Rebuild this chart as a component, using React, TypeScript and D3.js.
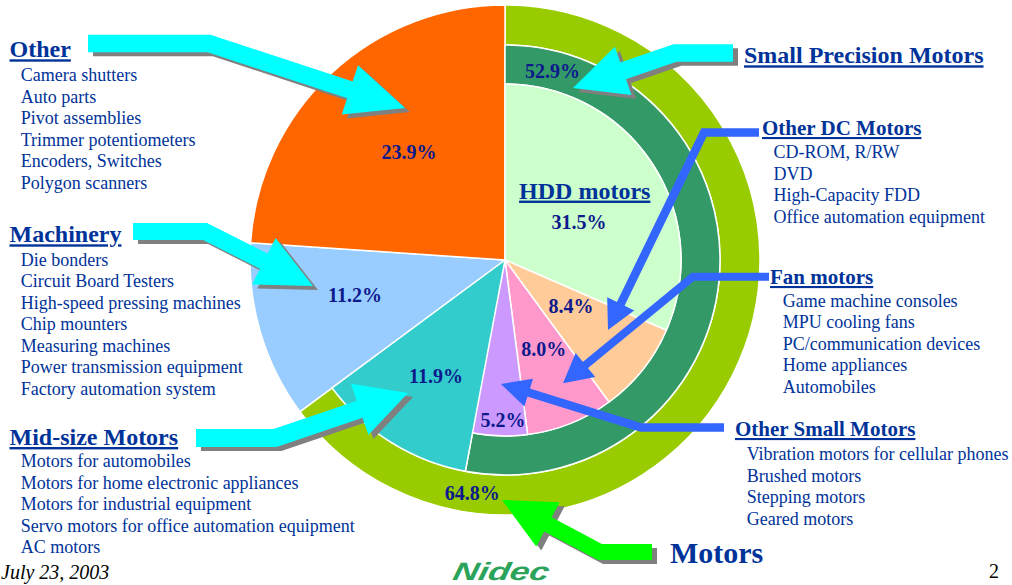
import React from "react";
import * as d3 from "d3";

// ---------- data ----------
const outerCategories = ["Motors", "Machinery", "Other"];
const outerShares = [64.8, 11.2, 23.9];
const motorCategories = ["Small Precision Motors", "Mid-size Motors"];
const motorShares = [52.9, 11.9];
const smallCategories = ["HDD motors", "Other DC Motors", "Fan motors", "Other Small Motors"];
const smallShares = [31.5, 8.4, 8.0, 5.2];

const otherItems = ["Camera shutters", "Auto parts", "Pivot assemblies", "Trimmer potentiometers", "Encoders, Switches", "Polygon scanners"];
const machineryItems = ["Die bonders", "Circuit Board Testers", "High-speed pressing machines", "Chip mounters", "Measuring machines", "Power transmission equipment", "Factory automation system"];
const midSizeItems = ["Motors for automobiles", "Motors for home electronic appliances", "Motors for industrial equipment", "Servo motors for office automation equipment", "AC motors"];
const otherDcItems = ["CD-ROM, R/RW", "DVD", "High-Capacity FDD", "Office automation equipment"];
const fanItems = ["Game machine consoles", "MPU cooling fans", "PC/communication devices", "Home appliances", "Automobiles"];
const otherSmallItems = ["Vibration motors for cellular phones", "Brushed motors", "Stepping motors", "Geared motors"];

// ---------- layout / style ----------
const W = 1012, H = 585;
const CX = 505, CY = 260;
const R_OUT = 255, R_MID = 215, R_IN = 176;
const SERIF = "'Liberation Serif', 'Times New Roman', serif";
const LEGEND_BLUE = "#003399";
const LABEL_NAVY = "#0C1A8C";

const colors: Record<string, string> = {
  "Motors": "#99CC00",
  "Machinery": "#99CCFF",
  "Other": "#FF6600",
  "Small Precision Motors": "#339966",
  "Mid-size Motors": "#33CCCC",
  "HDD motors": "#CCFFCC",
  "Other DC Motors": "#FFCC99",
  "Fan motors": "#FF99CC",
  "Other Small Motors": "#CC99FF",
};

// polar label placement (degrees clockwise from 12 o'clock, radius)
const labelPolar: Record<string, { deg: number; r: number }> = {
  "Motors": { deg: 188, r: 235 },
  "Machinery": { deg: 257, r: 154 },
  "Other": { deg: 318.4, r: 144.5 },
  "Small Precision Motors": { deg: 14.1, r: 194.6 },
  "Mid-size Motors": { deg: 210.7, r: 135 },
  "HDD motors": { deg: 63, r: 83 },
  "Other DC Motors": { deg: 124.7, r: 80.3 },
  "Fan motors": { deg: 156.5, r: 97 },
  "Other Small Motors": { deg: 180.7, r: 160 },
};

type Pt = [number, number];
interface ArrowSpec { start: Pt; bend: Pt; tip: Pt; w: number; hw: number; hl: number; color: string; shadow: boolean; }

const arrows: ArrowSpec[] = [
  { start: [88, 43.5], bend: [209, 43.5], tip: [405, 108], w: 17.5, hw: 52, hl: 58, color: "#00FFFF", shadow: true },
  { start: [133, 231.5], bend: [205, 231.5], tip: [313, 286], w: 17, hw: 52, hl: 55, color: "#00FFFF", shadow: true },
  { start: [196, 438], bend: [275, 438], tip: [408, 393], w: 18, hw: 54, hl: 51, color: "#00FFFF", shadow: true },
  { start: [733, 53], bend: [675, 53], tip: [573, 88], w: 17.5, hw: 51, hl: 53, color: "#00FFFF", shadow: true },
  { start: [652, 552], bend: [600, 552], tip: [502, 500], w: 16, hw: 50, hl: 52, color: "#00FF00", shadow: true },
  { start: [759, 132.5], bend: [704, 132.5], tip: [608, 330], w: 8.5, hw: 30, hl: 29, color: "#3366FF", shadow: false },
  { start: [769, 276.7], bend: [693, 276.7], tip: [563, 383.3], w: 8, hw: 31, hl: 29, color: "#3366FF", shadow: false },
  { start: [724, 427.5], bend: [641, 427.5], tip: [501, 384], w: 8.5, hw: 29, hl: 29, color: "#3366FF", shadow: false },
];

interface LegendBlock { title: string; x: number; y: number; size: number; items: string[]; ix: number; iy: number; }
const legends: LegendBlock[] = [
  { title: "Other", x: 9.5, y: 57.3, size: 24, items: otherItems, ix: 20.7, iy: 81 },
  { title: "Machinery", x: 9.5, y: 242.3, size: 24, items: machineryItems, ix: 20.7, iy: 265.7 },
  { title: "Mid-size Motors", x: 9.5, y: 445, size: 24, items: midSizeItems, ix: 20.7, iy: 467.3 },
  { title: "Small Precision Motors", x: 744, y: 63.3, size: 24, items: [], ix: 0, iy: 0 },
  { title: "Other DC Motors", x: 762, y: 135, size: 21, items: otherDcItems, ix: 773.5, iy: 158.3 },
  { title: "Fan motors", x: 770, y: 284, size: 21, items: fanItems, ix: 782.7, iy: 306.7 },
  { title: "Other Small Motors", x: 735, y: 436, size: 21, items: otherSmallItems, ix: 746.7, iy: 460 },
];
const ITEM_STEP = 21.5;

function polar(deg: number, r: number): Pt {
  const a = (deg * Math.PI) / 180;
  return [CX + r * Math.sin(a), CY - r * Math.cos(a)];
}

function arrowGeom(a: ArrowSpec) {
  const [bx, by] = a.bend;
  const [tx, ty] = a.tip;
  const dx = tx - bx, dy = ty - by;
  const L = Math.hypot(dx, dy);
  const ux = dx / L, uy = dy / L;
  const baseX = tx - ux * a.hl, baseY = ty - uy * a.hl;
  const shaft = d3.line()([a.start, a.bend, [baseX + ux, baseY + uy]]) || "";
  const px = -uy, py = ux;
  const head = `M${baseX + (px * a.hw) / 2},${baseY + (py * a.hw) / 2}L${tx},${ty}L${baseX - (px * a.hw) / 2},${baseY - (py * a.hw) / 2}Z`;
  return { shaft, head };
}

export default function App() {
  const total = d3.sum(outerShares);
  const angle = d3.scaleLinear().domain([0, total]).range([0, 2 * Math.PI]);
  const arc = d3.arc<any>();

  const cum = (vals: number[]) => {
    let acc = 0;
    return vals.map((v) => {
      const s = acc;
      acc += v;
      return [s, acc];
    });
  };

  const outerCum = cum(outerShares);
  const motorCum = cum(motorShares);
  const smallCum = cum(smallShares);

  const outerPaths = outerCategories.map((c, i) => ({
    name: c,
    value: outerShares[i],
    d: arc({
      innerRadius: c === "Motors" ? R_MID : 0,
      outerRadius: R_OUT,
      startAngle: angle(outerCum[i][0]),
      endAngle: angle(outerCum[i][1]),
    }) as string,
  }));
  const motorPaths = motorCategories.map((c, i) => ({
    name: c,
    value: motorShares[i],
    d: arc({
      innerRadius: i === 0 ? R_IN : 0,
      outerRadius: R_MID,
      startAngle: angle(motorCum[i][0]),
      endAngle: angle(motorCum[i][1]),
    }) as string,
  }));
  const smallPaths = smallCategories.map((c, i) => ({
    name: c,
    value: smallShares[i],
    d: arc({
      innerRadius: 0,
      outerRadius: R_IN,
      startAngle: angle(smallCum[i][0]),
      endAngle: angle(smallCum[i][1]),
    }) as string,
  }));

  const drawOrder = [
    outerPaths[0], outerPaths[1], outerPaths[2],
    motorPaths[0],
    ...smallPaths,
    motorPaths[1],
  ];

  const allLabels = [...outerPaths, ...motorPaths, ...smallPaths];

  const hddPos = polar(48.8, 106);

  return (
    <svg width={W} height={H} style={{ position: "absolute", left: 0, top: 0, background: "#fff" }} fontFamily={SERIF}>
      <rect x={0} y={0} width={W} height={H} fill="#fff" />
      {drawOrder.map((p) => (
        <path key={p.name} d={p.d} transform={`translate(${CX},${CY})`} fill={colors[p.name]} stroke="#fff" strokeWidth={1.5} strokeLinejoin="round" />
      ))}

      {arrows.map((a, i) => {
        const g = arrowGeom(a);
        return (
          <g key={"arrow" + i}>
            {a.shadow && (
              <g transform="translate(5,4)">
                <path d={g.shaft} fill="none" stroke="#808080" strokeWidth={a.w} strokeLinejoin="miter" strokeMiterlimit={10} />
                <path d={g.head} fill="#808080" />
              </g>
            )}
            <path d={g.shaft} fill="none" stroke={a.color} strokeWidth={a.w} strokeLinejoin="miter" strokeMiterlimit={10} />
            <path d={g.head} fill={a.color} />
          </g>
        );
      })}

      {allLabels.map((p) => {
        const lp = labelPolar[p.name];
        const [x, y] = polar(lp.deg, lp.r);
        return (
          <text key={"lbl" + p.name} x={x} y={y} dy="0.35em" textAnchor="middle" fontSize={20} fontWeight="bold" fill={LABEL_NAVY}>
            {p.value.toFixed(1)}%
          </text>
        );
      })}
      <text x={hddPos[0]} y={hddPos[1]} dy="0.35em" textAnchor="middle" fontSize={24} fontWeight="bold" fill={LEGEND_BLUE} style={{ textDecoration: "underline" }}>
        {smallCategories[0]}
      </text>

      {legends.map((lg) => (
        <g key={"lg" + lg.title}>
          <text x={lg.x} y={lg.y} fontSize={lg.size} fontWeight="bold" fill={LEGEND_BLUE} style={{ textDecoration: "underline" }}>
            {lg.title}
          </text>
          {lg.items.map((it, k) => (
            <text key={it} x={lg.ix} y={lg.iy + k * ITEM_STEP} fontSize={18} fill={LEGEND_BLUE}>
              {it}
            </text>
          ))}
        </g>
      ))}

      <text x={670} y={563} fontSize={30} fontWeight="bold" fill={LEGEND_BLUE}>
        {outerCategories[0]}
      </text>
      <text x={1} y={579.3} fontSize={20} fontStyle="italic" fill="#000">July 23, 2003</text>
      <text x={989} y={578.3} fontSize={20} fill="#000">2</text>
      <text x={452} y={580} fontSize={25} fontWeight="bold" fontStyle="italic" fontFamily="'Liberation Sans', Arial, sans-serif" fill="#2BA35A" textLength={96} lengthAdjust="spacingAndGlyphs" transform="skewX(-12) translate(123,0)">
        Nidec
      </text>
    </svg>
  );
}
